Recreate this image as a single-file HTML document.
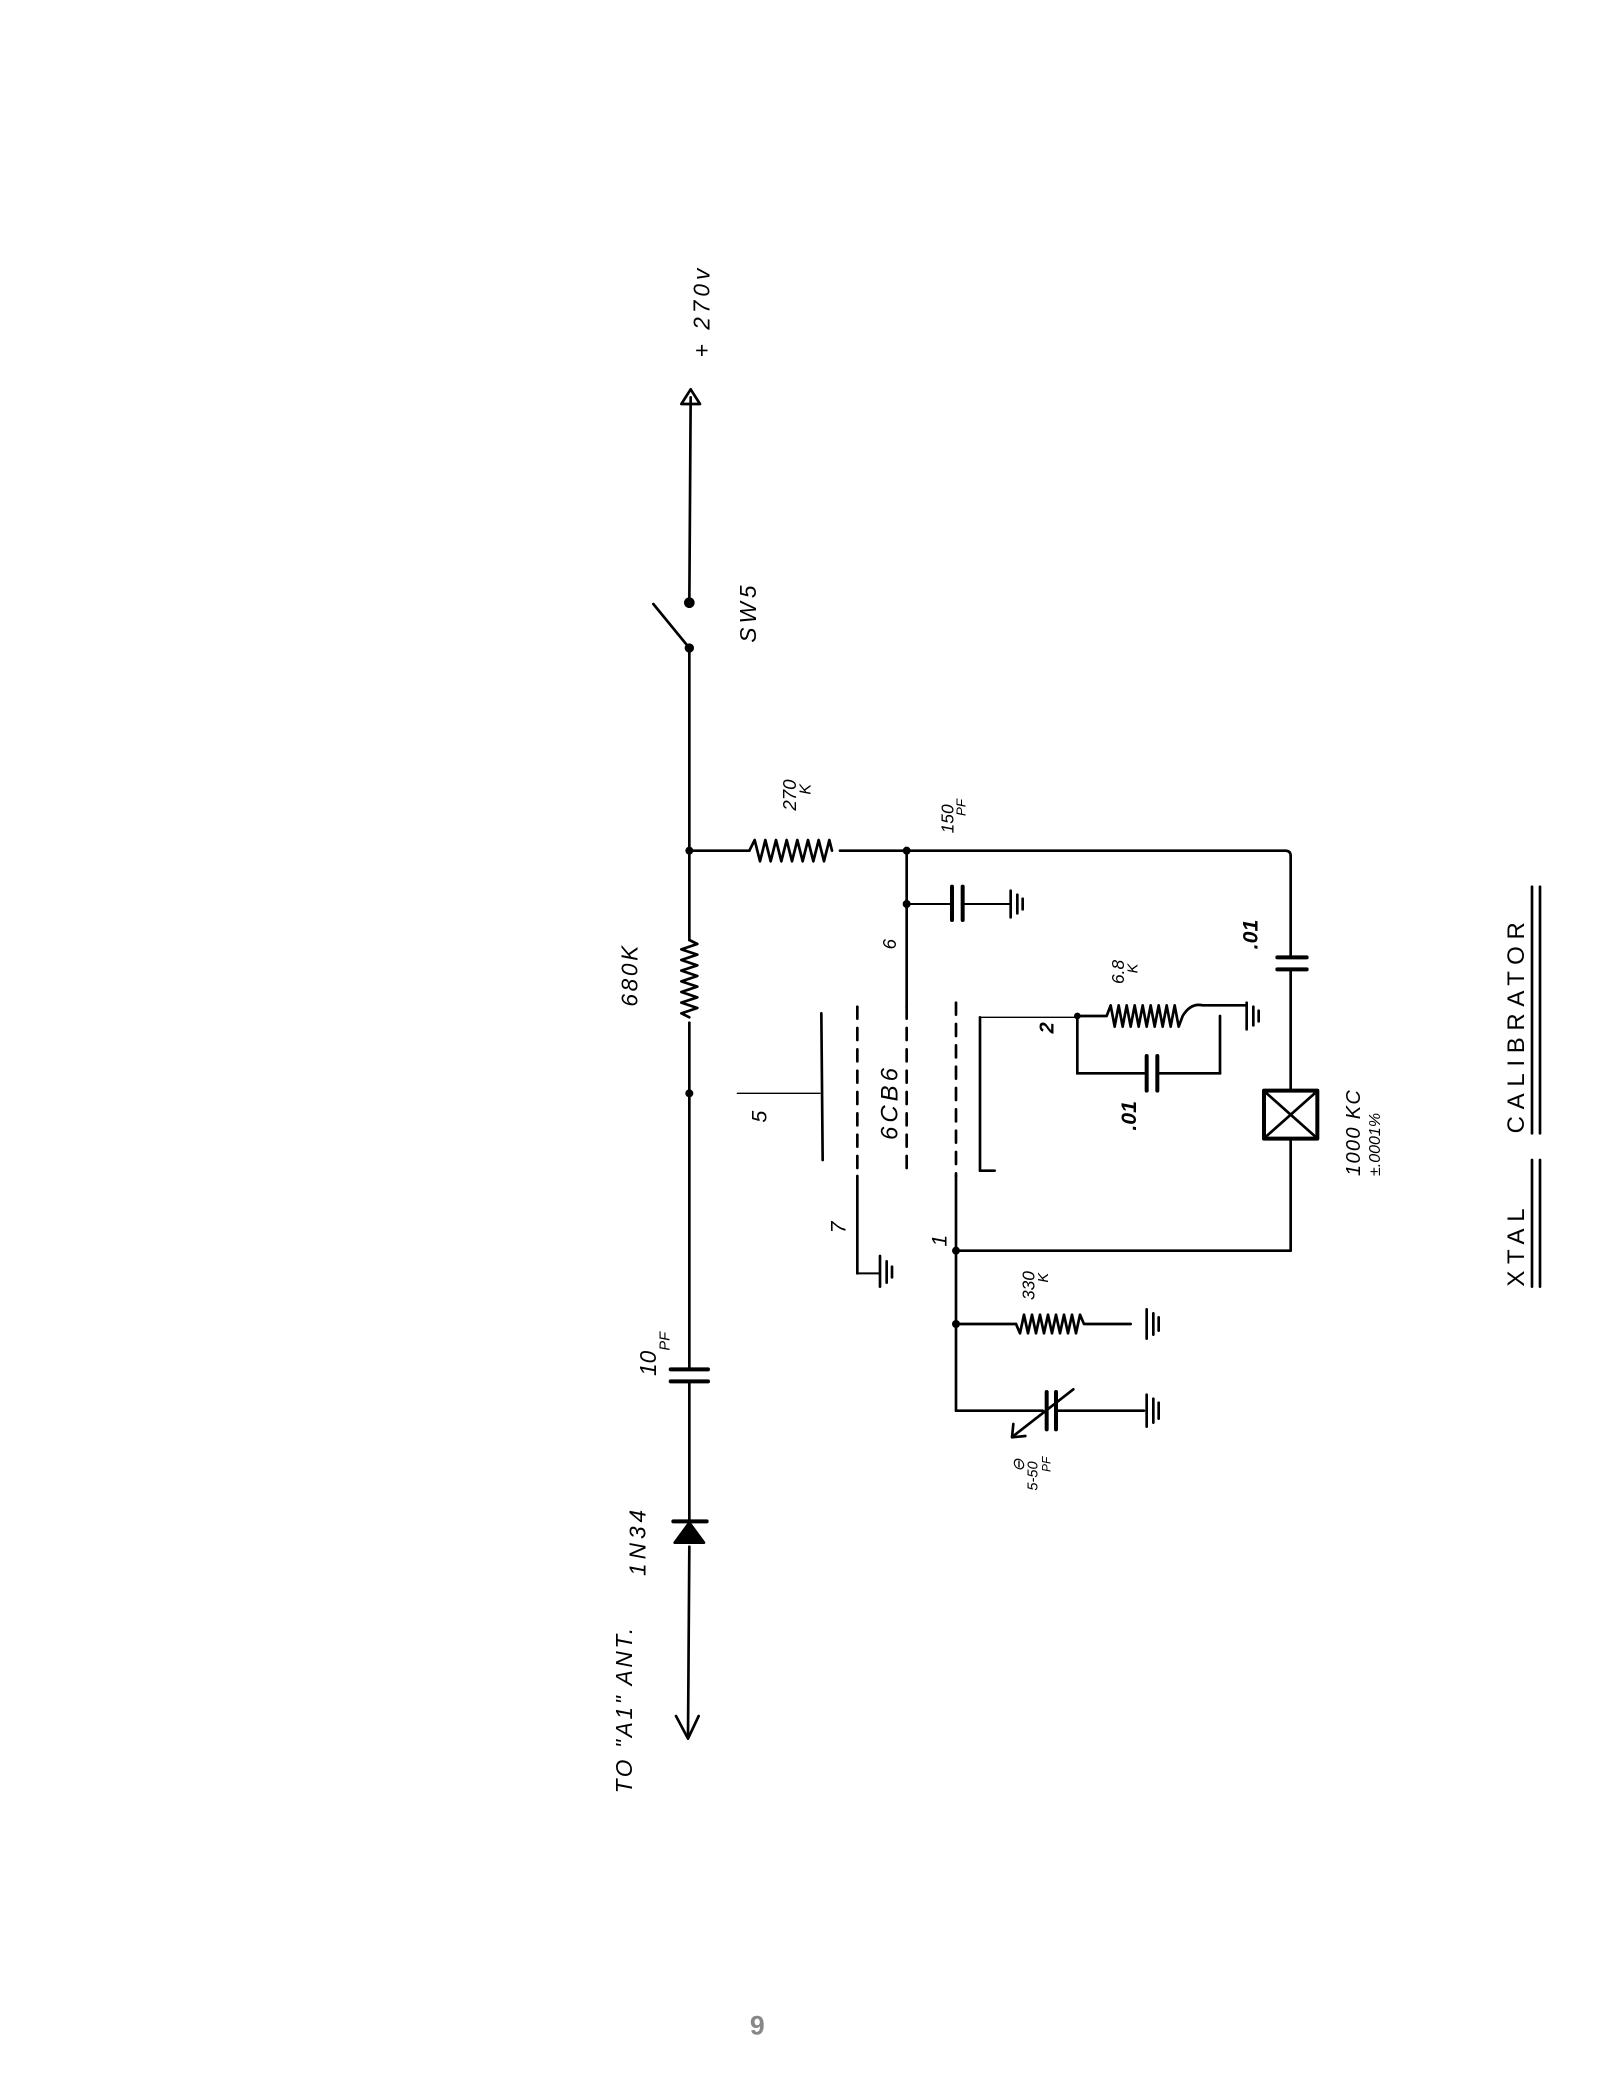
<!DOCTYPE html>
<html><head><meta charset="utf-8"><style>
html,body{margin:0;padding:0;background:#fff;width:1600px;height:2100px;overflow:hidden}
svg{display:block}
text{font-family:"Liberation Sans",sans-serif;fill:#000}
</style></head><body>
<svg width="1600" height="2100" viewBox="0 0 1200 1575" xmlns="http://www.w3.org/2000/svg">
<g stroke="#000" stroke-width="2" fill="none" stroke-linecap="round" stroke-linejoin="round">
<line x1="518" y1="298" x2="517" y2="452"/>
<path d="M518 292 L511 303 L525 303 Z"/>
<line x1="517" y1="486" x2="517" y2="705"/>
<line x1="490" y1="453" x2="517" y2="486"/>
<path d="M517 705 l6 3 l-12 4 l12 4 l-12 4 l12 4 l-12 4 l12 4 l-12 4 l12 4 l-12 4 l12 4 l-12 4 l12 4 l-12 4 l6 3"/>
<line x1="517" y1="767" x2="517" y2="1027"/>
<line x1="503" y1="1027" x2="531" y2="1027" stroke-width="3"/>
<line x1="503" y1="1036" x2="531" y2="1036" stroke-width="3"/>
<line x1="517" y1="1036" x2="517" y2="1140"/>
<line x1="505" y1="1141" x2="530" y2="1141" stroke-width="3"/>
<path d="M517 1142 L506 1157 L528 1157 Z" fill="#000"/>
<line x1="517" y1="1160" x2="516" y2="1303"/>
<path d="M507 1287 L516 1304 L524 1287"/>
<line x1="517" y1="638" x2="562" y2="638"/>
<path d="M562 638 l4 -8 l4 16 l4 -16 l4 16 l4 -16 l4 16 l4 -16 l4 16 l4 -16 l4 16 l4 -16 l4 16 l4 -16 l4 16 l4 -16 l2 8"/>
<line x1="630" y1="638" x2="964" y2="638"/>
<path d="M964 638 q4 0 4 4"/>
<line x1="968" y1="642" x2="968" y2="718"/>
<line x1="958" y1="718" x2="980" y2="718" stroke-width="3"/>
<line x1="958" y1="727" x2="980" y2="727" stroke-width="3"/>
<line x1="968" y1="727" x2="968" y2="818"/>
<rect x="948" y="818" width="40" height="36" stroke-width="3"/>
<line x1="950" y1="820" x2="986" y2="852"/><line x1="986" y1="820" x2="950" y2="852"/>
<line x1="968" y1="854" x2="968" y2="938"/>
<line x1="680" y1="638" x2="680" y2="755"/>
<line x1="680" y1="678" x2="712" y2="678" stroke-width="1.5"/>
<line x1="714" y1="665" x2="714" y2="690" stroke-width="3"/>
<line x1="722" y1="665" x2="722" y2="690" stroke-width="3"/>
<line x1="722" y1="678" x2="757" y2="678" stroke-width="1.5"/>
<line x1="758" y1="668" x2="758" y2="688"/><line x1="763" y1="671" x2="763" y2="685"/><line x1="767" y1="674" x2="767" y2="682"/>
<line x1="553" y1="820" x2="615" y2="820" stroke-width="1"/>
<line x1="616" y1="760" x2="617" y2="870"/>
<line x1="643" y1="755" x2="643" y2="882" stroke-dasharray="9 7"/>
<line x1="643" y1="882" x2="643" y2="955"/>
<line x1="643" y1="955" x2="660" y2="955" stroke-width="1.5"/>
<line x1="660" y1="942" x2="660" y2="965"/><line x1="665" y1="946" x2="665" y2="962"/><line x1="669" y1="950" x2="669" y2="958"/>
<line x1="680" y1="755" x2="680" y2="882" stroke-dasharray="9 7"/>
<line x1="717" y1="752" x2="717" y2="882" stroke-dasharray="9 7"/>
<line x1="717" y1="882" x2="717" y2="1058"/>
<line x1="717" y1="938" x2="968" y2="938"/>
<line x1="735" y1="763" x2="735" y2="878"/>
<line x1="735" y1="763" x2="808" y2="763" stroke-width="1"/>
<line x1="735" y1="878" x2="746" y2="878"/>
<path d="M808 762 l22 0 l3 -8 l3 16 l3 -16 l3 16 l3 -16 l3 16 l3 -16 l3 16 l3 -16 l3 16 l3 -16 l3 16 l3 -16 l3 16 l3 -16 l3 16 l3 -16 l3 16 l3 -8 q6 -10 15 -8 l32 0"/>
<line x1="935" y1="752" x2="935" y2="772"/><line x1="940" y1="755" x2="940" y2="769"/><line x1="944" y1="758" x2="944" y2="766"/>
<line x1="808" y1="762" x2="808" y2="805"/>
<line x1="808" y1="805" x2="858" y2="805"/>
<line x1="860" y1="792" x2="860" y2="818" stroke-width="3"/>
<line x1="868" y1="792" x2="868" y2="818" stroke-width="3"/>
<line x1="868" y1="805" x2="915" y2="805"/>
<line x1="915" y1="805" x2="915" y2="762"/>
<line x1="717" y1="993" x2="762" y2="993"/>
<path d="M762 993 l3 7 l3 -14 l3 14 l3 -14 l3 14 l3 -14 l3 14 l3 -14 l3 14 l3 -14 l3 14 l3 -14 l3 14 l3 -14 l3 14 l3 -14 l3 7 l35 0"/>
<line x1="860" y1="982" x2="860" y2="1004"/><line x1="865" y1="985" x2="865" y2="1001"/><line x1="869" y1="988" x2="869" y2="998"/>
<line x1="717" y1="1058" x2="782" y2="1058"/>
<line x1="785" y1="1044" x2="785" y2="1072" stroke-width="3"/>
<line x1="792" y1="1044" x2="792" y2="1072" stroke-width="3"/>
<line x1="792" y1="1058" x2="858" y2="1058"/>
<line x1="860" y1="1046" x2="860" y2="1070"/><line x1="865" y1="1049" x2="865" y2="1067"/><line x1="869" y1="1052" x2="869" y2="1064"/>
<line x1="805" y1="1042" x2="760" y2="1077"/>
<path d="M760 1068 L759 1078 L769 1077"/>
<line x1="1149" y1="665" x2="1149" y2="850"/><line x1="1155" y1="665" x2="1155" y2="850"/>
<line x1="1149" y1="870" x2="1149" y2="965"/><line x1="1155" y1="870" x2="1155" y2="965"/>
</g>
<g fill="#000">
<circle cx="517" cy="452" r="4"/><circle cx="517" cy="486" r="3.5"/>
<circle cx="517" cy="638" r="3"/><circle cx="680" cy="638" r="3"/><circle cx="680" cy="678" r="3"/>
<circle cx="517" cy="820" r="3"/><circle cx="717" cy="938" r="3"/><circle cx="717" cy="993" r="3"/><circle cx="808" cy="762" r="2.5"/>
</g>
<g font-size="17" font-style="italic">
<text transform="translate(532,268) rotate(-90)" letter-spacing="3">+ 270v</text>
<text transform="translate(567,482) rotate(-90)" letter-spacing="3">SW5</text>
<text transform="translate(597,608) rotate(-90)" font-size="14">270</text>
<text transform="translate(608,596) rotate(-90)" font-size="12">K</text>
<text transform="translate(715,625) rotate(-90)" font-size="13">150</text>
<text transform="translate(724,612) rotate(-90)" font-size="10">PF</text>
<text transform="translate(478,755) rotate(-90)" letter-spacing="2">680K</text>
<text transform="translate(672,712) rotate(-90)" font-size="14">6</text>
<text transform="translate(575,842) rotate(-90)" font-size="16">5</text>
<text transform="translate(673,855) rotate(-90)" letter-spacing="3" font-size="18">6CB6</text>
<text transform="translate(634,925) rotate(-90)" font-size="16">7</text>
<text transform="translate(710,935) rotate(-90)" font-size="16">1</text>
<text transform="translate(790,775) rotate(-90)" font-size="15" font-weight="bold">2</text>
<text transform="translate(843,738) rotate(-90)" font-size="13">6.8</text>
<text transform="translate(853,730) rotate(-90)" font-size="11">K</text>
<text transform="translate(852,848) rotate(-90)" font-size="16" font-weight="bold">.01</text>
<text transform="translate(943,712) rotate(-90)" font-size="16" font-weight="bold">.01</text>
<text transform="translate(1020,882) rotate(-90)" font-size="15" letter-spacing="1">1000 KC</text>
<text transform="translate(1035,882) rotate(-90)" font-size="12">±.0001%</text>
<text transform="translate(776,975) rotate(-90)" font-size="13">330</text>
<text transform="translate(786,962) rotate(-90)" font-size="11">K</text>
<text transform="translate(778,1118) rotate(-90)" font-size="11">5-50</text>
<text transform="translate(788,1104) rotate(-90)" font-size="9">PF</text>
<text transform="translate(768,1104) rotate(-90)" font-size="12">⊖</text>
<text transform="translate(492,1032) rotate(-90)" font-size="17">10</text>
<text transform="translate(502,1013) rotate(-90)" font-size="11">PF</text>
<text transform="translate(484,1182) rotate(-90)" letter-spacing="3">1N34</text>
<text transform="translate(474,1345) rotate(-90)" letter-spacing="2">TO "A1" ANT.</text>
<text transform="translate(1143,965) rotate(-90)" font-size="18" letter-spacing="5" font-style="normal">XTAL</text>
<text transform="translate(1143,850) rotate(-90)" font-size="18" letter-spacing="5" font-style="normal">CALIBRATOR</text>
</g>
<text x="568" y="1526" font-size="20" text-anchor="middle" font-weight="bold" style="fill:#888">9</text>
</svg>
</body></html>
